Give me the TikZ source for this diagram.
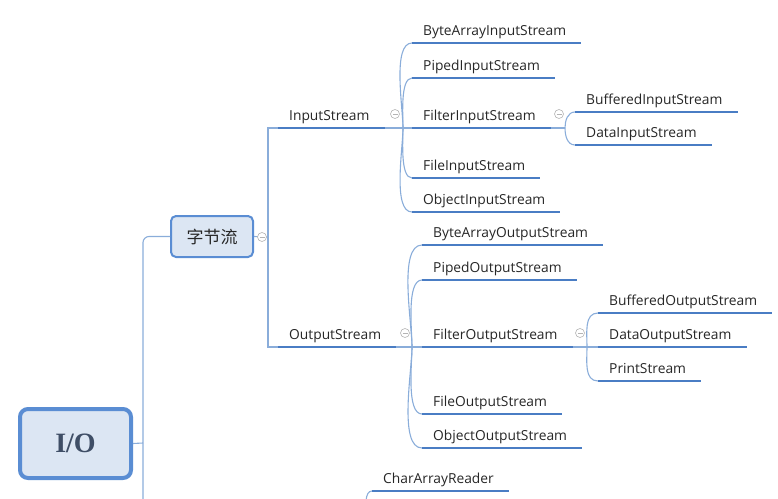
\documentclass[tikz,border=0pt]{standalone}
\usepackage{fontspec}
\usepackage{tikz}
\usetikzlibrary{positioning}
\newfontfamily\topicfont{Open Sans}
\newfontfamily\cjkfont{Noto Sans CJK SC}
\newfontfamily\rootfont{Liberation Serif}
\definecolor{linkblue}{HTML}{8AADDA}
\definecolor{underblue}{HTML}{4A7DC4}
\definecolor{hubline}{HTML}{5A8DD3}
\definecolor{hubfill}{HTML}{DCE6F3}
\definecolor{topictext}{HTML}{262626}
\definecolor{roottext}{HTML}{3F4E66}
\definecolor{foldgray}{HTML}{B4B4B4}
\tikzset{
  topic/.style={
    anchor=south west, inner xsep=11pt, inner ysep=4pt,
    text depth=3pt, text=topictext,
    font=\topicfont\fontsize{13.8}{16}\selectfont
  },
  hub/.style={
    draw=hubline, fill=hubfill, rounded corners=5pt,
    line width=2pt, text=topictext
  },
  fold/.style={
    circle, draw=foldgray, fill=white, minimum size=9pt,
    inner sep=0pt, line width=0.6pt,
    path picture={\draw[foldgray, line width=0.6pt]
      ([xshift=2pt]path picture bounding box.west) --
      ([xshift=-2pt]path picture bounding box.east);}
  },
  link/.style={draw=linkblue, line width=1.1pt},
  under/.style={draw=underblue, line width=2.8pt}
}

\begin{document}
\begin{tikzpicture}[x=1pt,y=1pt]
  \useasboundingbox (0,0) rectangle (778,-498);
  \clip (0,0) rectangle (778,-498);
  % root and first level
  \node[hub, line width=4pt, rounded corners=8pt, minimum width=111pt,
    minimum height=69pt, text=roottext,
    font=\rootfont\bfseries\fontsize{28}{30}\selectfont]
    (io) at (75.5,-443.5) {I/O};
  \node[hub, minimum width=82pt, minimum height=41pt,
    font=\cjkfont\fontsize{17}{20}\selectfont]
    (bytes) at (212,-236.5) {字节流};
  \coordinate (iojoin) at (143,-443);
  \coordinate (ioroot) at (143,-515);
  \coordinate (bytesfork) at (268,-237);
  % streams
  \node[topic] (ins) at (278,-128) {InputStream};
  \node[topic] (outs) at (278,-347) {OutputStream};
  \coordinate (insfork) at (403,-128);
  \coordinate (outsfork) at (412,-347);
  % input side
  \node[topic] (bais) at (412,-43) {ByteArrayInputStream};
  \node[topic] (pis) at (412,-78) {PipedInputStream};
  \node[topic] (fis) at (412,-128) {FilterInputStream};
  \node[topic] (fileis) at (412,-178) {FileInputStream};
  \node[topic] (ois) at (412,-212) {ObjectInputStream};
  \coordinate (fisfork) at (565,-128);
  \node[topic] (bis) at (575,-112) {BufferedInputStream};
  \node[topic] (dis) at (575,-145) {DataInputStream};
  % output side
  \node[topic] (baos) at (422,-245) {ByteArrayOutputStream};
  \node[topic] (pos) at (422,-280) {PipedOutputStream};
  \node[topic] (fos) at (422,-347) {FilterOutputStream};
  \node[topic] (fileos) at (422,-414) {FileOutputStream};
  \node[topic] (oos) at (422,-448) {ObjectOutputStream};
  \coordinate (fosfork) at (587,-347);
  \node[topic] (bos) at (598,-313) {BufferedOutputStream};
  \node[topic] (dos) at (598,-347) {DataOutputStream};
  \node[topic] (ps) at (598,-381) {PrintStream};
  % reader side
  \node[topic] (car) at (372,-491) {CharArrayReader};
  \coordinate (carroot) at (366,-515);

  % connectors
  \draw[link] (io.east) -- (iojoin);
  \draw[link, rounded corners=6pt] (ioroot) |- (bytes.west);
  \draw[link] (bytes.east) -- (bytesfork);
  \draw[link] (ins.south west) -| (bytesfork) |- (outs.south west);
  \draw[link] ([xshift=4pt]ins.south east) -- (insfork);
  \draw[link] ([xshift=4pt]outs.south east) -- (outsfork);
  \draw[link] ([xshift=4pt]fis.south east) -- (fisfork);
  \draw[link] ([xshift=4pt]fos.south east) -- (fosfork);
  \foreach \c in {bais,pis}
    \draw[link] (insfork) to[out=90,in=180,looseness=.6] (\c.south west);
  \foreach \c in {fileis,ois}
    \draw[link] (insfork) to[out=-90,in=180,looseness=.6] (\c.south west);
  \draw[link] (insfork) -- (fis.south west);
  \draw[link] (fisfork) to[out=90,in=180] (bis.south west);
  \draw[link] (fisfork) to[out=-90,in=180] (dis.south west);
  \foreach \c in {baos,pos}
    \draw[link] (outsfork) to[out=90,in=180,looseness=.6] (\c.south west);
  \foreach \c in {fileos,oos}
    \draw[link] (outsfork) to[out=-90,in=180,looseness=.6] (\c.south west);
  \draw[link] (outsfork) -- (fos.south west);
  \draw[link] (fosfork) to[out=90,in=180] (bos.south west);
  \draw[link] (fosfork) to[out=-90,in=180] (ps.south west);
  \draw[link] (fosfork) -- (dos.south west);
  \draw[link] (carroot) to[out=90,in=180,looseness=.8] (car.south west);

  % underlines
  \foreach \n in {ins,outs,bais,pis,fis,fileis,ois,bis,dis,
                  baos,pos,fos,fileos,oos,bos,dos,ps,car}
    \draw[under] (\n.south west) -- ([xshift=4pt]\n.south east);

  % fold marks
  \node[fold] (bytesfold) at (262,-237) {};
  \node[fold] (insfold) at (395,-114) {};
  \node[fold] (outsfold) at (405,-333) {};
  \node[fold] (fisfold) at (559,-114) {};
  \node[fold] (fosfold) at (580,-333) {};
\end{tikzpicture}
\end{document}
